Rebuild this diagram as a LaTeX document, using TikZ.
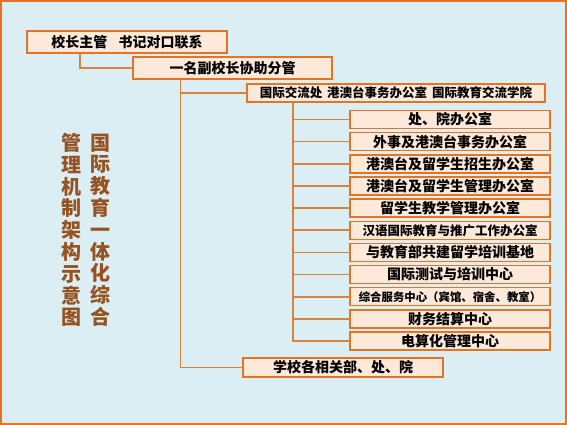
\documentclass[tikz,border=0pt]{standalone}
\usepackage{fontspec}
\usepackage{xcolor}
\usetikzlibrary{positioning}
\newfontfamily\cjk{Noto Sans CJK SC}
\definecolor{bgblue}{RGB}{219,238,244}
\definecolor{boxfill}{RGB}{253,233,217}
\definecolor{boxline}{RGB}{226,116,36}
\definecolor{linkline}{RGB}{217,130,60}
\definecolor{titlebrown}{RGB}{150,82,32}

\begin{document}
\begin{tikzpicture}[x=1pt,y=-1pt,font=\cjk\bfseries\fontsize{14}{14}\selectfont,
   node distance=4.15pt,
   box/.style={draw=boxline,line width=1.5pt,fill=boxfill,inner sep=0pt,outer sep=0pt,
               minimum width=200pt,minimum height=18pt},
   link/.style={draw=linkline,line width=1.6pt},
   title/.style={font=\cjk\bfseries\fontsize{20}{21.8}\selectfont,text=titlebrown,
               align=center,inner sep=0pt}]
  \fill[bgblue] (0,0) rectangle (567,425);
  \draw[boxline,line width=2pt] (1,1) rectangle (566,424);
  % main chain
  \node[box,minimum height=22pt] (xz)  at (127,42)  {校长主管\hspace{0.8em}书记对口联系};
  \node[box,minimum width=199pt,minimum height=22pt] (fxz) at (232.5,68) {一名副校长协助分管};
  \node[box,minimum width=298pt,font=\cjk\bfseries\fontsize{12.5}{12.5}\selectfont] (gjc) at (396,93)
       {国际交流处\hspace{0.4em}港澳台事务办公室\hspace{0.4em}国际教育交流学院};
  % offices
  \node[box] (bgs) at (450,119.5) {处、院办公室};
  \node[box,below=of bgs] (wsb) {外事及港澳台事务办公室};
  \node[box,below=of wsb] (zsb) {港澳台及留学生招生办公室};
  \node[box,below=of zsb] (glb) {港澳台及留学生管理办公室};
  \node[box,below=of glb] (jxb) {留学生教学管理办公室};
  \node[box,below=of jxb,font=\cjk\bfseries\fontsize{12.5}{12.5}\selectfont] (hyb) {汉语国际教育与推广工作办公室};
  \node[box,below=of hyb] (jd)  {与教育部共建留学培训基地};
  \node[box,below=of jd]  (cs)  {国际测试与培训中心};
  \node[box,below=of cs,font=\cjk\bfseries\fontsize{11.4}{11.4}\selectfont] (fw) {综合服务中心（宾馆、宿舍、教室）};
  \node[box,below=of fw]  (cw)  {财务结算中心};
  \node[box,below=of cw]  (dsh) {电算化管理中心};
  \node[box,minimum height=19pt] (xx) at (343,367.5) {学校各相关部、处、院};
  % connectors
  \draw[link] ([xshift=-47pt]xz.south) |- (fxz.west);
  \draw[link] ([xshift=-52pt]fxz.south) |- (gjc.west);
  \draw[link] ([xshift=-52pt]fxz.south) |- (xx.west);
  \draw[link] ([xshift=-103pt]gjc.south) |- (bgs.west);
  \draw[link] ([xshift=-103pt]gjc.south) |- (wsb.west);
  \draw[link] ([xshift=-103pt]gjc.south) |- (zsb.west);
  \draw[link] ([xshift=-103pt]gjc.south) |- (glb.west);
  \draw[link] ([xshift=-103pt]gjc.south) |- (jxb.west);
  \draw[link] ([xshift=-103pt]gjc.south) |- (hyb.west);
  \draw[link] ([xshift=-103pt]gjc.south) |- (jd.west);
  \draw[link] ([xshift=-103pt]gjc.south) |- (cs.west);
  \draw[link] ([xshift=-103pt]gjc.south) |- (fw.west);
  \draw[link] ([xshift=-103pt]gjc.south) |- (cw.west);
  \draw[link] ([xshift=-103pt]gjc.south) |- (dsh.west);
  % vertical title
  \node[title] (ti1) at (100,230) {国\\际\\教\\育\\一\\体\\化\\综\\合};
  \node[title,left=8pt of ti1] (ti2) {管\\理\\机\\制\\架\\构\\示\\意\\图};
\end{tikzpicture}
\end{document}
